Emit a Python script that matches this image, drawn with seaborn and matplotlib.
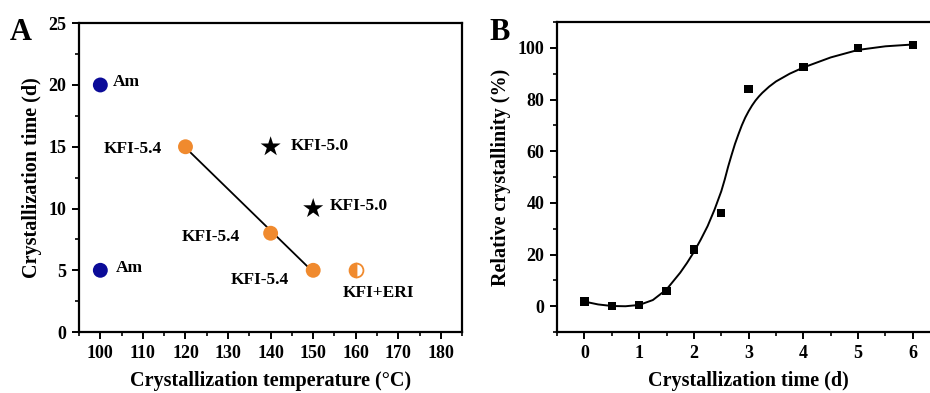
import matplotlib
import matplotlib.pyplot as plt
import numpy as np
import seaborn as sns
from matplotlib.ticker import MultipleLocator

matplotlib.use("Agg")

# panel A data
am_temp = [100, 100]
am_time = [20, 5]
kfi54_temp = [120, 140, 150]
kfi54_time = [15, 8, 5]
kfi50_temp = [140, 150]
kfi50_time = [15, 10]
mix_temp = [160]
mix_time = [5]

# panel B data
cryst_time = [0, 0.5, 1, 1.5, 2, 2.5, 3, 4, 5, 6]
cryst_pct = [1.8, 0, 0.4, 6, 22, 36, 84, 92.5, 100, 101.2]
# fitted curve
fit_time = [0, 0.25, 0.5, 0.75, 1.0, 1.25, 1.5, 1.75, 1.875, 2.0, 2.125, 2.25,
            2.375, 2.5, 2.5625, 2.625, 2.6875, 2.75, 2.8125, 2.875, 2.9375,
            3.0, 3.0625, 3.125, 3.1875, 3.25, 3.375, 3.5, 3.75, 4.0, 4.5,
            5.0, 5.5, 6.0]
fit_pct = [1.8, 0.7, 0.1, 0.0, 0.5, 2.4, 6.5, 13, 16.8, 21, 25.8, 31,
           37.3, 44.5, 49, 54, 58.5, 62.8, 66.5, 70, 73,
           75.5, 77.7, 79.6, 81.2, 82.6, 85, 87, 90, 92.4, 96.3,
           99.2, 100.6, 101.3]

sns.set_style("ticks")
plt.rcParams["font.family"] = ["Liberation Serif", "DejaVu Serif"]
plt.rcParams["font.weight"] = "bold"
plt.rcParams["axes.labelweight"] = "bold"
plt.rcParams["axes.linewidth"] = 1.6
plt.rcParams["text.color"] = "black"
plt.rcParams["axes.labelcolor"] = "black"
plt.rcParams["xtick.color"] = "black"
plt.rcParams["ytick.color"] = "black"
plt.rcParams["axes.edgecolor"] = "black"

blue = "#0b0b98"
orange = "#f08a2e"

fig = plt.figure(figsize=(9.3, 3.93), dpi=100)
ax1 = fig.add_axes([0.085, 0.155, 0.412, 0.786])
ax2 = fig.add_axes([0.599, 0.155, 0.412, 0.789])

# ---- A ----
sns.regplot(x=kfi54_temp, y=kfi54_time, scatter=False, ci=None, truncate=True,
            color="black", line_kws=dict(lw=1.3), ax=ax1)
sns.scatterplot(x=am_temp, y=am_time, color=blue, s=115, edgecolor="none", ax=ax1, zorder=3)
sns.scatterplot(x=kfi54_temp, y=kfi54_time, color=orange, s=115, edgecolor="none", ax=ax1, zorder=3)
sns.scatterplot(x=kfi50_temp, y=kfi50_time, color="black", marker="*", s=230,
                edgecolor="none", ax=ax1, zorder=3)
ax1.plot(mix_temp, mix_time, "o", ms=10, fillstyle="left", mfc=orange,
         mfcalt="white", mec=orange, mew=1.3, zorder=3)

fs = 12.5
ax1.text(103, 20.25, "Am", fontsize=fs, fontweight="bold", va="center")
ax1.text(103.6, 5.15, "Am", fontsize=fs, fontweight="bold", va="center")
ax1.text(114.4, 14.8, "KFI-5.4", fontsize=fs, fontweight="bold", va="center", ha="right")
ax1.text(132.8, 7.7, "KFI-5.4", fontsize=fs, fontweight="bold", va="center", ha="right")
ax1.text(144.4, 4.2, "KFI-5.4", fontsize=fs, fontweight="bold", va="center", ha="right")
ax1.text(144.8, 15.07, "KFI-5.0", fontsize=fs, fontweight="bold", va="center")
ax1.text(153.8, 10.2, "KFI-5.0", fontsize=fs, fontweight="bold", va="center")
ax1.text(157.0, 3.13, "KFI+ERI", fontsize=fs, fontweight="bold", va="center")

ax1.set_xlim(95, 185)
ax1.set_ylim(0, 25)
ax1.xaxis.set_minor_locator(MultipleLocator(5))
ax1.yaxis.set_major_locator(MultipleLocator(5))
ax1.yaxis.set_minor_locator(MultipleLocator(2.5))
ax1.set_xticks(np.arange(100, 181, 10))
ax1.set_xlabel("Crystallization temperature (\u00b0C)", fontsize=14.5, labelpad=7)
ax1.set_ylabel("Crystallization time (d)", fontsize=14.5, labelpad=5)

# ---- B ----
sns.lineplot(x=fit_time, y=fit_pct, color="black", lw=1.4, ax=ax2)
sns.scatterplot(x=cryst_time, y=cryst_pct, color="black", marker="s", s=36,
                edgecolor="none", ax=ax2, zorder=3)
ax2.set_xlim(-0.5, 6.5)
ax2.set_ylim(-10, 110)
ax2.xaxis.set_minor_locator(MultipleLocator(0.5))
ax2.yaxis.set_minor_locator(MultipleLocator(10))
ax2.set_xticks(np.arange(0, 7, 1))
ax2.set_yticks(np.arange(0, 101, 20))
ax2.set_xlabel("Crystallization time (d)", fontsize=14.5, labelpad=7)
ax2.set_ylabel("Relative crystallinity (%)", fontsize=14.5, labelpad=5)

for ax in (ax1, ax2):
    for sp in ax.spines.values():
        sp.set_visible(True)
    ax.tick_params(which="major", direction="out", length=5, width=1.4,
                   labelsize=13, pad=4, top=False, right=False)
    ax.tick_params(which="minor", direction="out", length=3, width=1.2,
                   top=False, right=False)
    for lab in ax.get_xticklabels() + ax.get_yticklabels():
        lab.set_fontweight("bold")

fig.text(0.010, 0.955, "A", fontsize=22, fontweight="bold", va="top")
fig.text(0.526, 0.955, "B", fontsize=22, fontweight="bold", va="top")

fig.savefig("out.png", dpi=100)
